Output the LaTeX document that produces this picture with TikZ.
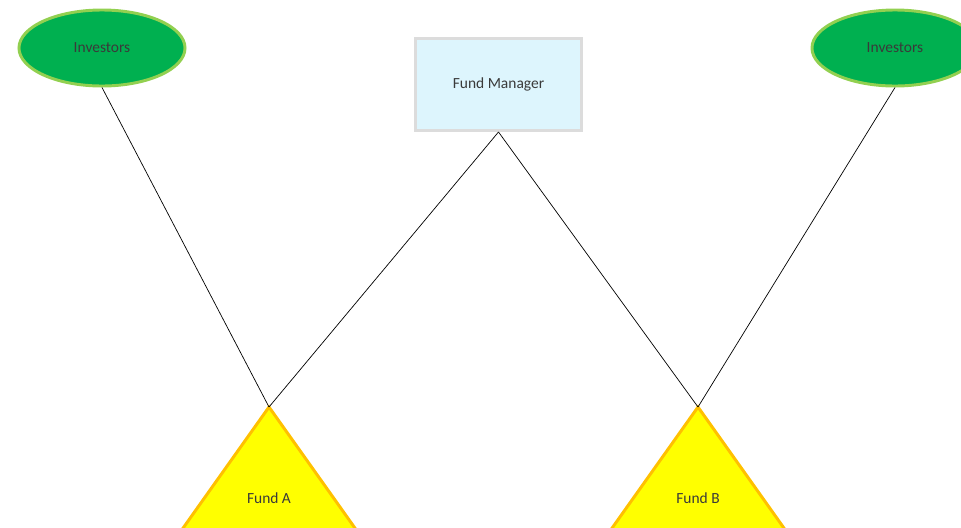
\documentclass[tikz,border=0pt]{standalone}
\usepackage{fontspec}
\setmainfont{Carlito}
\usetikzlibrary{shapes.geometric}
\definecolor{investfill}{HTML}{00B050}
\definecolor{investline}{HTML}{92D050}
\definecolor{managerfill}{HTML}{DDF5FD}
\definecolor{managerline}{HTML}{DCDCDC}
\definecolor{fundfill}{HTML}{FFFF00}
\definecolor{fundline}{HTML}{FFC000}
\definecolor{labeltext}{HTML}{3A3A3A}
\tikzset{
  investor/.style={ellipse, draw=investline, fill=investfill, line width=2.1pt,
    minimum width=4.15cm, minimum height=1.9cm, inner sep=0pt},
  manager/.style={rectangle, draw=managerline, fill=managerfill, line width=2.1pt,
    minimum width=4.15cm, minimum height=2.3cm, inner sep=0pt},
  fundtri/.style={draw=fundline, fill=fundfill, line width=2.1pt, line join=miter},
  labelfont/.style={text=labeltext, font=\fontsize{11}{13}\selectfont},
  link/.style={draw=black, line width=0.5pt}
}

\begin{document}
\begin{tikzpicture}[x=0.025cm, y=-0.025cm]
			%%%%% START %%%%%
			\useasboundingbox (0, 0) rectangle (961, 527);
			\clip (0, 0) rectangle (961, 527);

			% investors
			\node[investor, labelfont] (investorsL) at (102, 48) {Investors};
			\node[investor, labelfont] (investorsR) at (895, 48) {Investors};

			% manager
			\node[manager, labelfont] (manager) at (498.5, 84.5) {Fund Manager};

			% funds
			\coordinate (apexA) at (269, 407);
			\coordinate (apexB) at (698, 407);
			\draw[fundtri] (apexA) -- ++(137, 193) -- ++(-274, 0) -- cycle;
			\draw[fundtri] (apexB) -- ++(137, 193) -- ++(-274, 0) -- cycle;
			\node[labelfont] (fundA) at (269, 498) {Fund A};
			\node[labelfont] (fundB) at (698, 498) {Fund B};

			% links
			\draw[link] (investorsL.south) -- (apexA);
			\draw[link] (manager.south) -- (apexA);
			\draw[link] (manager.south) -- (apexB);
			\draw[link] (investorsR.south) -- (apexB);
			%%%%% END %%%%%
\end{tikzpicture}
\end{document}
